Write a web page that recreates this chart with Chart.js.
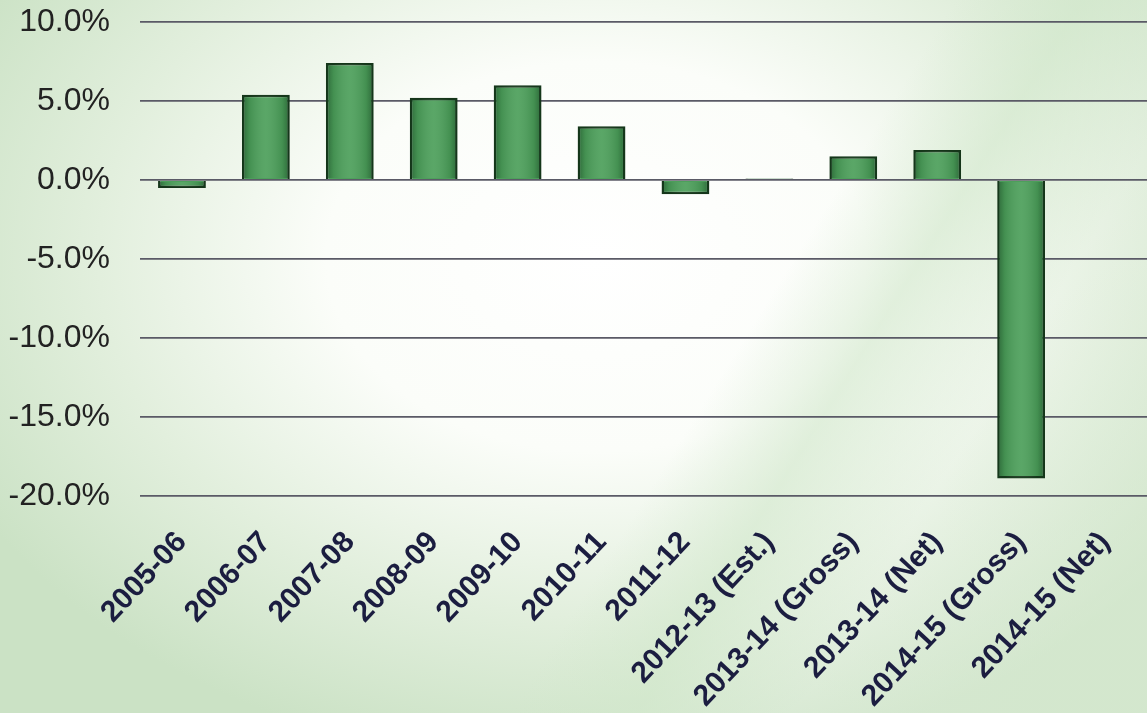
<!DOCTYPE html>
<html>
<head>
<meta charset="utf-8">
<script src="https://cdn.jsdelivr.net/npm/chart.js@4/dist/chart.umd.min.js"></script>
<style>
  html, body { margin: 0; padding: 0; }
  body {
    width: 1147px; height: 713px; overflow: hidden;
    background:
      linear-gradient(122deg, rgba(255,255,255,0) 60%, rgba(210,232,204,0.6) 68%, rgba(255,255,255,0.2) 78%, rgba(220,236,214,0.5) 92%),
      radial-gradient(ellipse 62% 72% at 52% 36%, #ffffff 0%, #fbfdf9 38%, #e2efdd 70%, #cbe2c5 100%);
  }
  #wrap { position: relative; width: 1147px; height: 713px; }
</style>
</head>
<body>
<div id="wrap"><canvas id="chart-growth"></canvas></div>
<script>
// categories and values
const categories = [
  '2005-06', '2006-07', '2007-08', '2008-09', '2009-10', '2010-11', '2011-12',
  '2012-13 (Est.)', '2013-14 (Gross)', '2013-14 (Net)', '2014-15 (Gross)', '2014-15 (Net)'
];
const growth = [-0.5, 5.4, 7.4, 5.2, 6.0, 3.4, -0.9, 0.1, 1.5, 1.9, -18.9, 0];
const yTicks = [10, 5, 0, -5, -10, -15, -20];

document.addEventListener('DOMContentLoaded', function () {
  const BAR_FILL = '#4c9f5a';
  const BAR_BORDER = '#153519';
  const GRID_COLOR = '#5a5a66';
  const FONT = 'Liberation Sans, Arial, sans-serif';

  const el = document.querySelector('#chart-growth');
  if (!el) return;

  // soft bevel on each bar, like the slide's 3D-ish bars
  const bevel = {
    id: 'bevel',
    afterDatasetsDraw(chart) {
      const ctx = chart.ctx;
      chart.getDatasetMeta(0).data.forEach((bar) => {
        const { x, y, base, width } = bar.getProps(['x', 'y', 'base', 'width'], true);
        const top = Math.min(y, base), h = Math.abs(base - y);
        if (h < 3) return;
        const left = x - width / 2;
        const g = ctx.createLinearGradient(left, 0, left + width, 0);
        g.addColorStop(0, 'rgba(20,60,30,0.55)');
        g.addColorStop(0.16, 'rgba(20,60,30,0.15)');
        g.addColorStop(0.5, 'rgba(255,255,255,0.08)');
        g.addColorStop(0.84, 'rgba(20,60,30,0.15)');
        g.addColorStop(1, 'rgba(20,60,30,0.55)');
        ctx.save();
        ctx.fillStyle = g;
        ctx.fillRect(left + 1, top + 1, width - 2, h - 2);
        ctx.restore();
      });
    },
  };

  new Chart(el, {
    type: 'bar',
    plugins: [bevel],
    data: {
      labels: categories,
      datasets: [{
        label: 'Growth',
        data: growth,
        backgroundColor: BAR_FILL,
        borderColor: BAR_BORDER,
        borderWidth: 2.5,
        categoryPercentage: 1,
        barPercentage: 0.57,
      }],
    },
    options: {
      responsive: true,
      maintainAspectRatio: false,
      animation: false,
      layout: { padding: { left: 6, top: 22, right: 0, bottom: 0 } },
      plugins: {
        legend: { display: false },
        tooltip: { enabled: false },
      },
      scales: {
        x: {
          grid: { display: false },
          border: { display: false },
          afterFit: (scale) => {
            scale.paddingLeft = 0;
            scale.paddingRight = 0;
            scale.height = 217;
          },
          ticks: {
            autoSkip: false,
            maxRotation: 47,
            minRotation: 47,
            padding: 21,
            color: '#1b1d40',
            font: { family: FONT, size: 30, weight: 'bold' },
          },
        },
        y: {
          min: -20,
          max: 10,
          afterBuildTicks: (axis) => { axis.ticks = yTicks.map((v) => ({ value: v })); },
          afterFit: (scale) => {
            scale.paddingTop = 0;
            scale.paddingBottom = 0;
            scale.width = 134;
          },
          grid: { color: GRID_COLOR, lineWidth: 1.8, drawTicks: false },
          border: { display: false },
          ticks: {
            padding: 30,
            color: '#222222',
            font: { family: FONT, size: 32 },
            callback: (value) => `${value.toFixed(1)}%`,
          },
        },
      },
    },
  });
});
</script>
</body>
</html>
